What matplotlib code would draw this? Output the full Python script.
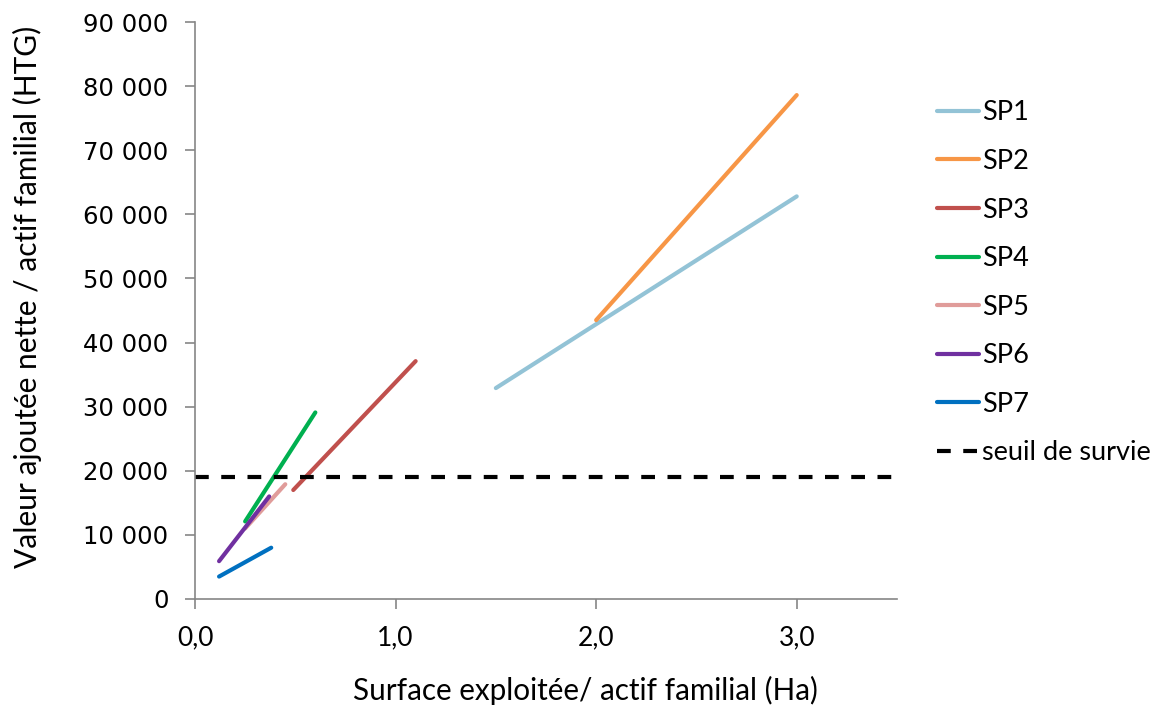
import matplotlib
matplotlib.use("Agg")
import matplotlib.pyplot as plt
from matplotlib.ticker import FuncFormatter

series_names = ["SP1", "SP2", "SP3", "SP4", "SP5", "SP6", "SP7"]
x_start = [1.50, 2.00, 0.49, 0.25, 0.25, 0.12, 0.12]
x_end = [3.00, 3.00, 1.10, 0.60, 0.45, 0.37, 0.38]
y_start = [32900, 43500, 17000, 12100, 11000, 5900, 3500]
y_end = [62800, 78600, 37100, 29100, 17900, 16000, 8000]
colors = ["#93C3D6", "#F79646", "#C0504D", "#00B050", "#E09C9A", "#7030A0", "#0070C0"]
threshold = 19100
threshold_label = "seuil de survie"

x_ticks = [0, 1, 2, 3]
y_ticks = list(range(0, 90001, 10000))

fig = plt.figure(figsize=(11.62, 7.08), dpi=100)
ax = fig.add_axes([195/1162, 1-599/708, (897-195)/1162, (599-22)/708])

for name, xs, xe, ys, ye, c in zip(series_names, x_start, x_end, y_start, y_end, colors):
    ax.plot([xs, xe], [ys, ye], color=c, lw=3.0, solid_capstyle="round", label=name)
ax.axhline(threshold, color="black", lw=3, ls=(0, (3.3, 3.0)), label=threshold_label)

ax.set_xlim(0, 3.5)
ax.set_ylim(0, 90000)
ax.set_xticks(x_ticks)
ax.set_yticks(y_ticks)
ax.xaxis.set_major_formatter(FuncFormatter(lambda v, p: f"{v:.1f}".replace(".", ",")))
ax.yaxis.set_major_formatter(FuncFormatter(lambda v, p: f"{int(v):,}".replace(",", " ")))

for s in ["top", "right"]:
    ax.spines[s].set_visible(False)
for s in ["left", "bottom"]:
    ax.spines[s].set_color("#868686")
    ax.spines[s].set_linewidth(1.2)
ax.tick_params(axis="both", color="#868686", width=1.2, length=7, direction="out")
ax.tick_params(axis="y", labelsize=17.5, pad=12)
ax.tick_params(axis="x", labelsize=19, pad=12)
for lab in ax.get_xticklabels():
    lab.set_family("Lato")
for lab in ax.get_yticklabels():
    lab.set_family("DejaVu Sans")

ax.set_xlabel("Surface exploitée/ actif familial (Ha)", fontsize=21.3, family="Lato", va="center")
ax.set_ylabel("Valeur ajoutée nette / actif familial (HTG)", fontsize=21.5, family="Lato", va="center")
ax.xaxis.set_label_coords((585-195)/702, (599-690)/577)
ax.yaxis.set_label_coords((27-195)/702, (599-297)/577)

leg = fig.legend(loc="upper left", bbox_to_anchor=(913/1162, 1-76/708), frameon=False,
                 prop={"family": "Lato", "size": 19.5}, handlelength=1.55, handletextpad=0.1,
                 labelspacing=0.87)

fig.savefig("out.png", dpi=100)
